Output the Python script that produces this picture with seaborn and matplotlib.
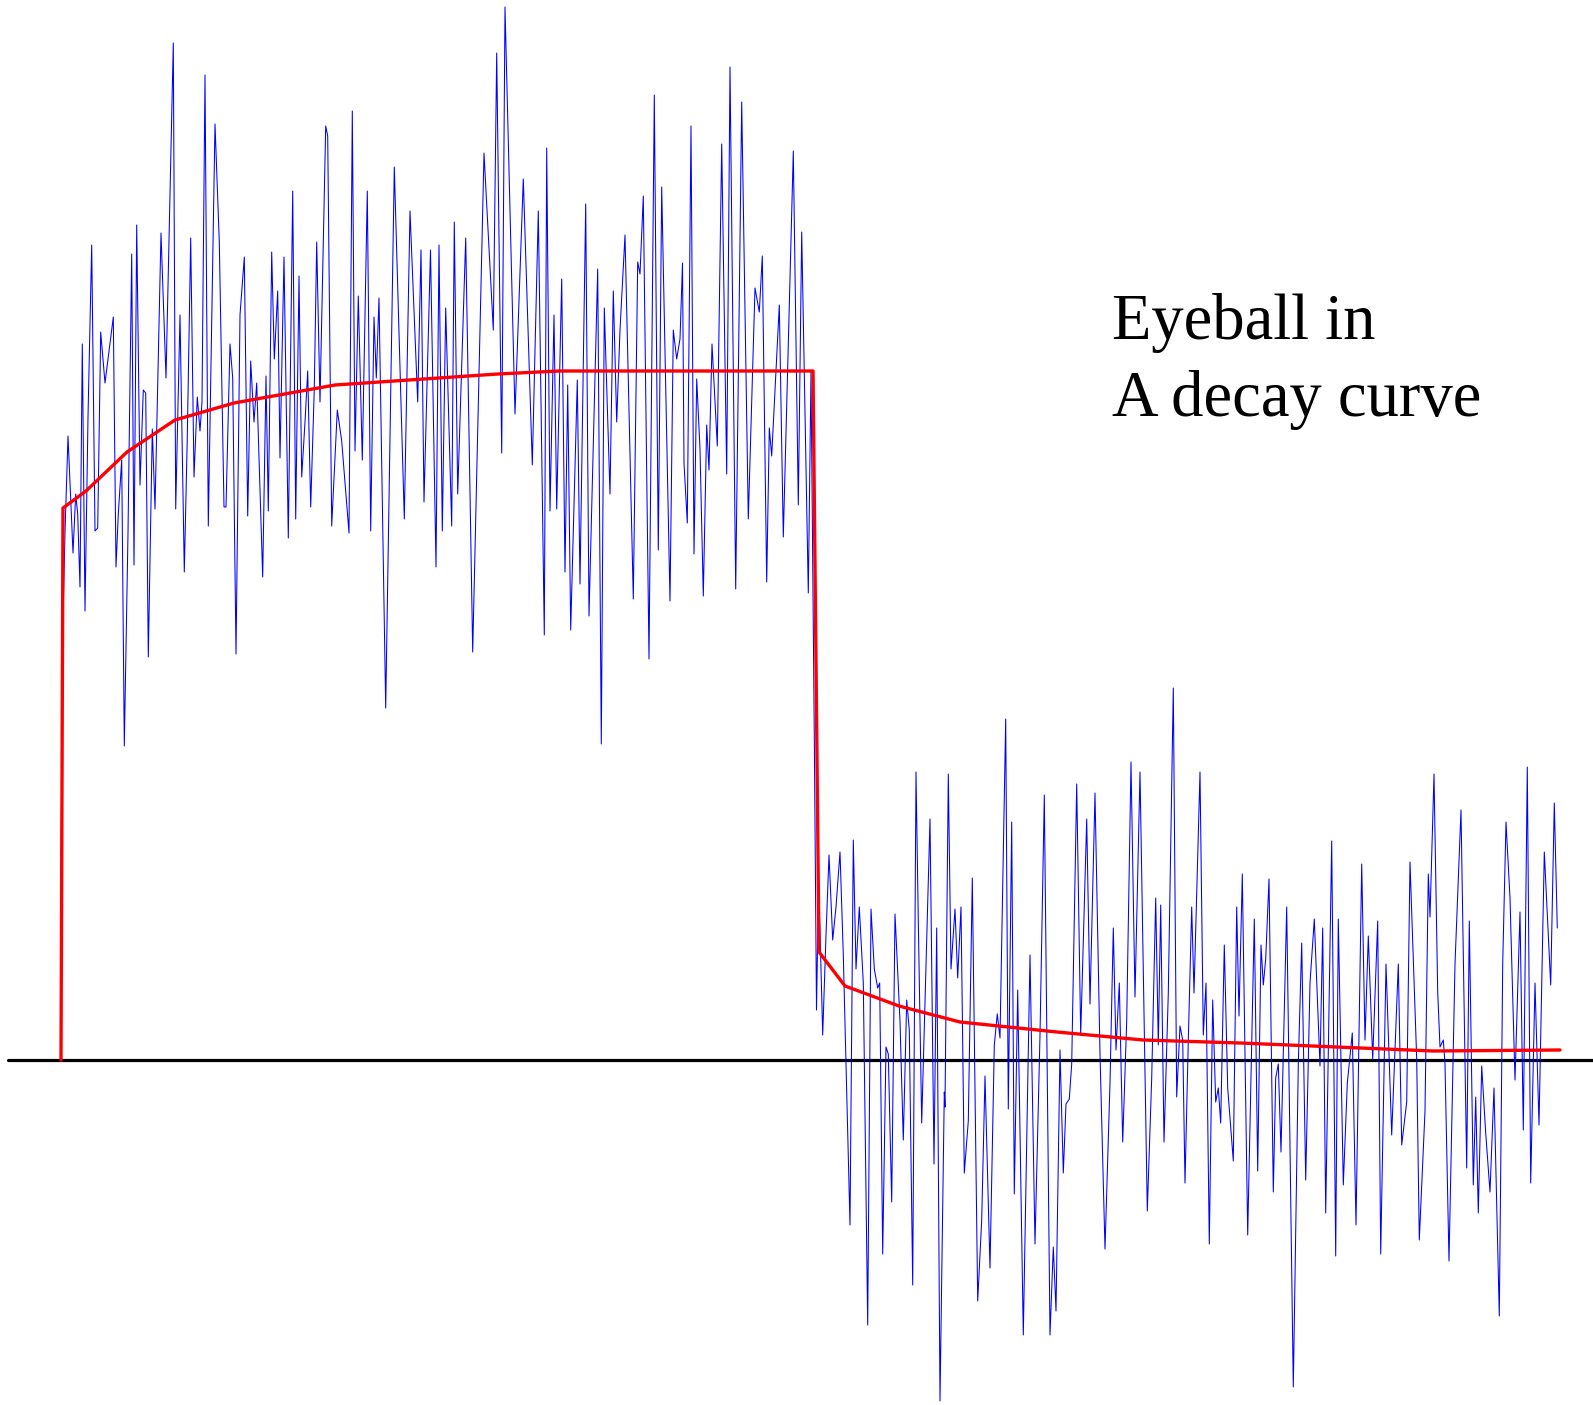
import numpy as np
import pandas as pd
import matplotlib
matplotlib.use("Agg")
import matplotlib.pyplot as plt
import seaborn as sns

# ---- data: noisy measured signal (time, amplitude) ----
signal_t = [61, 63, 65, 68, 69.7, 73, 75.7, 77.7, 80, 82.3, 85, 88, 91.7, 95, 97.7, 100.7, 105, 113.3, 116, 118.3,
            121.7, 124.3, 128, 131.7, 134, 136.7, 140, 143.3, 145.7, 148.3, 152.3, 155, 161, 166, 173.3, 175.7, 180,
            184.3, 187.3, 190.7, 194, 197.3, 200, 202, 205, 208.3, 211.7, 215, 219.3, 224, 226, 230, 232.7, 236, 240,
            244.3, 247.7, 250.7, 254, 256.7, 262.7, 266, 268.3, 271.7, 274.3, 277.7, 280, 284, 288.3, 292.7, 295.7,
            299, 301.7, 305, 307.7, 310.7, 314.3, 316.7, 320, 325.7, 327.7, 331.7, 337.3, 341.7, 349, 352.3, 355,
            358.3, 362.3, 367.3, 370.7, 374, 376.3, 379, 385.7, 394.3, 404.3, 410, 417.7, 421, 424, 430.5, 436, 439,
            442.3, 445.7, 451.7, 454.3, 457.7, 465.7, 472.7, 484, 493.3, 496.7, 501.7, 505, 515, 523.3, 532.3, 538.3,
            544.3, 546.7, 550, 554, 556.7, 561.7, 565, 567.7, 570.7, 577.3, 580, 585.7, 589, 597.7, 601.3, 604.3, 610,
            613.3, 616.7, 620, 625, 633.3, 637.7, 640, 643.3, 649, 654.3, 658.3, 661.7, 670, 673.3, 676.7, 680, 682.5,
            684, 687.3, 691, 694, 696.7, 700, 703.3, 706.7, 709, 712, 717.3, 721.7, 726.7, 730, 735.7, 741.7, 748.3,
            755, 759.3, 762.3, 766.7, 769.3, 771.7, 779.3, 783.3, 793.3, 798.3, 801.7, 808.3, 811, 813.3, 814.5,
            816.5, 818.5, 820, 822.7, 826, 829, 832.7, 836, 840, 843.3, 850, 853.3, 856, 859.3, 863.3, 867.7, 871,
            874.3, 877.7, 879.7, 882.7, 886, 888.3, 891.7, 895, 900, 903.3, 906.7, 909.3, 912.7, 916, 918.3, 921.7,
            930, 934, 936.7, 940, 944.3, 945, 948.3, 951, 955, 957.7, 961, 964.3, 968.3, 972.3, 977.7, 981.7, 985,
            990, 994.3, 997.3, 1000, 1005.7, 1008.3, 1011.7, 1014.3, 1017.7, 1023.3, 1030, 1035, 1040, 1044.3, 1050,
            1053.3, 1056, 1060, 1063.3, 1066, 1069.3, 1071.7, 1076.7, 1080.7, 1086.7, 1090, 1095, 1100, 1105, 1110,
            1113.3, 1116, 1119.3, 1122.7, 1126.7, 1131, 1135, 1140, 1147.3, 1151.7, 1155.7, 1158.3, 1160.7, 1164,
            1168.3, 1173.3, 1176.7, 1180, 1182.7, 1185, 1188.3, 1191.7, 1194, 1200, 1203.3, 1206, 1209.3, 1212.7,
            1215.7, 1218.3, 1220.7, 1224.3, 1227.7, 1233.3, 1236.7, 1239, 1242.3, 1247.7, 1254.3, 1257.7, 1261,
            1263.3, 1265.7, 1269, 1273.3, 1275.7, 1278.3, 1281, 1286.7, 1293.3, 1298.3, 1301.7, 1305.7, 1310, 1314.3,
            1320, 1322.7, 1325.7, 1331.7, 1335.7, 1338.3, 1343.3, 1347.3, 1352.3, 1356, 1361.7, 1365, 1368.3, 1372.7,
            1377.7, 1380.7, 1386, 1391.7, 1398.3, 1401.7, 1406.7, 1410, 1416.7, 1419.3, 1425, 1428.3, 1430, 1434,
            1437.7, 1440, 1443.3, 1445, 1449, 1455, 1461, 1466.7, 1469.3, 1473.3, 1475.7, 1478.3, 1481.7, 1485.7,
            1490, 1494, 1499.3, 1502.7, 1506, 1510, 1515, 1520, 1523.3, 1527.3, 1530.7, 1535, 1539, 1544.3, 1550.7,
            1554.3, 1557.3]

signal_v = [186, 440, 527, 624, 585, 507, 566, 546, 473, 716, 449, 643, 815, 529, 532, 728, 677, 743, 493, 546,
            600, 314, 527, 806, 495, 835, 575, 670, 667, 403, 631, 551, 827, 682, 1017, 551, 745,
            488, 624, 822, 583, 663, 629, 658, 985, 534, 740, 936, 818, 553, 553, 716, 682, 406, 745,
            803, 544, 699, 638, 677, 483, 684, 549, 808, 701, 769, 602, 803, 522, 869, 541,
            784, 583, 638, 689, 553, 672, 818, 658, 934, 924, 534, 650, 619, 527, 949, 609,
            764, 600, 869, 529, 743, 682, 762, 352, 893, 541, 849, 658, 810, 558, 810, 493, 815,
            529, 752, 534, 838, 566, 822, 408, 907, 730, 1007, 607, 1053, 646, 881, 595, 849,
            425, 912, 549, 745, 551, 781, 488, 675, 430, 680, 476, 856, 444, 791, 316, 752, 566,
            769, 638, 730, 825, 461, 798, 786, 864, 401, 965, 510, 873, 459, 730, 701, 721, 797,
            597, 537, 934, 506, 681, 611, 464, 635, 590, 716, 614, 916, 586, 993, 471, 958, 541,
            772, 748, 804, 478, 632, 604, 755, 523, 909, 555, 828, 467, 688, 428, 300,
            50, 172, 130, 25, 125, 205, 120, 153, 208, 105, -165, 220, 91, 153, 77, -265, 151,
            91, 72, 77, -194, 13, 6, -142, 146, 39, -80, 60, 30, -225, 288, 139, -63,
            241, -104, 132, -341, -32, -47, 286, 91, 151, 82, 153, -113, -61, 182, -241, -160, -16,
            -208, 15, 46, 22, 341, -49, 238, -134, 70, -275, 105, -184, 25, 265, -275,
            -187, -251, 10, -113, -44, -39, -4, 276, 25, 241, 56, 267, 6, -189, -23,
            132, 10, 77, -82, 39, 298, 63, 288, -151, -18, 162, 15, 155, -82,
            67, 372, -37, 34, 20, -123, 20, 153, 67, 288, 25, 77, -184, 60,
            -42, -28, -63, 115, -28, -101, 153, 44, 186, -175, 141, -111, 115,
            75, 101, 181, -132, -18, -4, -92, 153, -327, -4, 117, -120, 77, 141,
            -6, 132, -153, 219, -196, 141, -125, -23, 27, -165, 196, 20, 124, 1,
            139, -194, 96, -75, 96, -85, -42, 198, 1, -180, -51, 186, 143, 286,
            68, 13, 20, -4, -201, 96, 250, -108, 139, -125, -37, -153, -6, -73,
            -132, -28, -256, 96, 238, 162, -20, 148, -70, 293, -123, 77, -65, 208, 75,
            257, 132]

curve_t = [61, 63, 86, 127, 175, 234, 335, 498, 559, 813, 819, 845, 899, 960, 1057, 1143, 1240, 1433, 1560]
curve_v = [0, 552, 569, 608, 640, 657, 675, 686, 689, 689, 108, 74, 54, 38, 28, 20, 17, 9, 10]

label_lines = ["Eyeball in", "A decay curve"]

sig = pd.DataFrame({"t": signal_t, "v": signal_v})
cur = pd.DataFrame({"t": curve_t, "v": curve_v})

sns.set_theme(style="white")
plt.rcParams["font.family"] = ["Liberation Serif", "DejaVu Serif"]

fig = plt.figure(figsize=(15.93, 14.05), dpi=100)
ax = fig.add_axes([0, 0, 1, 1])

ax.axhline(0, xmin=8 / 1593, xmax=1.0, color="black", lw=2.3, zorder=1)
sns.lineplot(data=sig, x="t", y="v", ax=ax, color="#0000ff", lw=0.75,
             estimator=None, sort=False, zorder=2)
sns.lineplot(data=cur, x="t", y="v", ax=ax, color="#ff0000", lw=2.4,
             estimator=None, sort=False, zorder=3)

ax.text(1112, 721, label_lines[0], fontsize=46.5, va="baseline", ha="left", color="black")
ax.text(1112, 644, label_lines[1], fontsize=46.5, va="baseline", ha="left", color="black")

ax.set_xlim(0, 1593)
ax.set_ylim(-345, 1060)
ax.set_axis_off()

fig.savefig("out.png", dpi=100)
